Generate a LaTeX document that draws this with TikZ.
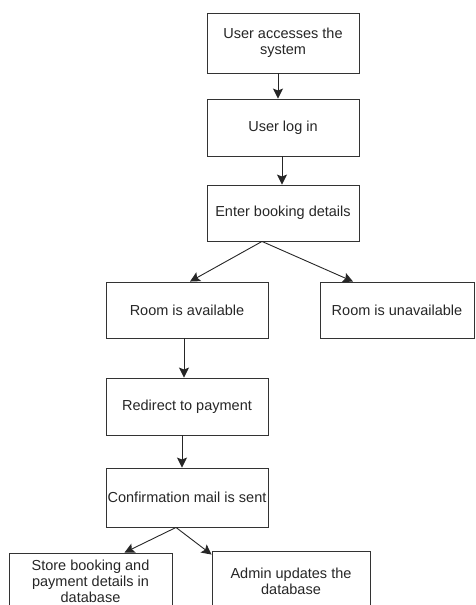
\documentclass[tikz,border=0pt]{standalone}
\usepackage{fontspec}
\setmainfont{Liberation Sans}
\usetikzlibrary{arrows.meta}

\begin{document}
\begin{tikzpicture}[
  x=1pt,y=-1pt,
  font=\fontsize{14.5}{16}\selectfont,
  block/.style={draw=black!80,line width=0.9pt,inner sep=0pt,text=black!85},
  to/.style={->,>={Stealth[length=10pt,width=10pt,inset=2pt]},line width=0.9pt,draw=black!85},
  every node/.style={align=center}]

  % Page frame, the lowest boxes run off the bottom
  \useasboundingbox (0,0) rectangle (475,605);
  \clip (0,0) rectangle (475,605);

  % Place the boxes at their coordinates
  \node[block,minimum width=152pt,minimum height=60pt] (access) at (283,43) {User accesses the\\system};
  \node[block,minimum width=152pt,minimum height=57pt] (login) at (283,127.5) {User log in};
  \node[block,minimum width=152pt,minimum height=56pt] (booking) at (283,213) {Enter booking details};
  \node[block,minimum width=162pt,minimum height=56pt] (avail) at (187,310) {Room is available};
  \node[block,minimum width=154pt,minimum height=56pt] (unavail) at (397,310) {Room is unavailable};
  \node[block,minimum width=162pt,minimum height=57pt] (payment) at (187,406.5) {Redirect to payment};
  \node[block,minimum width=162pt,minimum height=59pt] (mail) at (187,497.5) {Confirmation mail is sent};
  \node[block,minimum width=163pt,minimum height=56pt] (store) at (90.5,581) {Store booking and\\payment details in\\database};
  \node[block,minimum width=158pt,minimum height=60pt] (admin) at (291,581) {Admin updates the\\database};

  % Draw the arrows between the boxes
  \draw[to] ([xshift=-5pt]access.south) -- ([xshift=-5pt]login.north);
  \draw[to] ([xshift=-1pt]login.south) -- ([xshift=-1pt]booking.north);
  \draw[to] ([xshift=-21pt]booking.south) -- ([xshift=3pt]avail.north);
  \draw[to] ([xshift=-21pt]booking.south) -- ([xshift=-44pt]unavail.north);
  \draw[to] ([xshift=-3pt]avail.south) -- ([xshift=-3pt]payment.north);
  \draw[to] ([xshift=-5pt]payment.south) -- ([xshift=-5pt]mail.north);
  \draw[to] ([xshift=-11pt]mail.south) -- ([xshift=34pt]store.north);
  \draw[to] ([xshift=-11pt]mail.south) -- ([yshift=-4pt]admin.north west);
\end{tikzpicture}
\end{document}
